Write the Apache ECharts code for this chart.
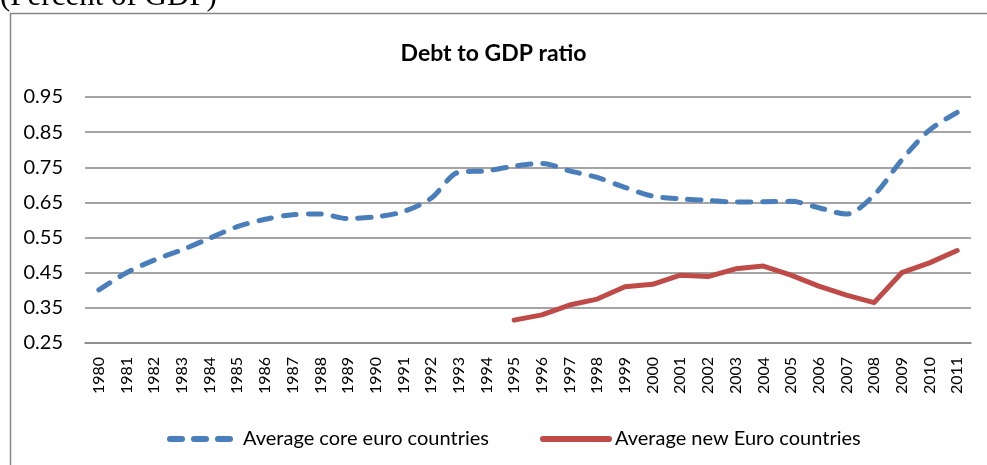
<!DOCTYPE html>
<html>
<head>
<meta charset="utf-8">
<script src="https://cdn.jsdelivr.net/npm/echarts@6/dist/echarts.min.js"></script>
<style>
html,body{margin:0;padding:0;background:#fff;}
#chart{width:987px;height:465px;}
</style>
</head>
<body>
<div id="chart"></div>
<script>
const years = ['1980','1981','1982','1983','1984','1985','1986','1987','1988','1989','1990','1991','1992','1993','1994','1995','1996','1997','1998','1999','2000','2001','2002','2003','2004','2005','2006','2007','2008','2009','2010','2011'];
const coreEuro = [0.401,0.450,0.486,0.515,0.548,0.581,0.602,0.615,0.617,0.604,0.609,0.624,0.662,0.736,0.740,0.753,0.761,0.740,0.721,0.693,0.668,0.660,0.656,0.651,0.652,0.653,0.635,0.617,0.671,0.771,0.856,0.906];
const newEuro = [null,null,null,null,null,null,null,null,null,null,null,null,null,null,null,0.315,0.330,0.358,0.375,0.410,0.417,0.443,0.439,0.461,0.469,0.443,0.412,0.386,0.365,0.450,0.478,0.513];
const seriesNames = ['Average core euro countries','Average new Euro countries'];
const chartTitle = 'Debt to GDP ratio';
const unitNote = '(Percent of GDP)';

const BLUE = '#4a7ebb', RED = '#be4b48';
const dashIcon = 'path://M3,0 L15,0 A3,3 0 0 1 15,6 L3,6 A3,3 0 0 1 3,0 Z M27,0 L39,0 A3,3 0 0 1 39,6 L27,6 A3,3 0 0 1 27,0 Z M51,0 L63,0 A3,3 0 0 1 63,6 L51,6 A3,3 0 0 1 51,0 Z';
const pillIcon = 'path://M3,0 L69,0 A3,3 0 0 1 69,6 L3,6 A3,3 0 0 1 3,0 Z';

const chart = echarts.init(document.getElementById('chart'));
const FONT = 'Lato';
chart.setOption({
  animation: false,
  backgroundColor: '#fff',
  graphic: [
    {type:'rect', shape:{x:10.5,y:13.5,width:1000,height:500}, style:{fill:'none',stroke:'#868686',lineWidth:1.5}, silent:true},
    {type:'text', left:0, top:-19, style:{text:unitNote, font:'31px "Liberation Serif"', fill:'#000'}}
  ],
  title: {
    text: chartTitle, left: 'center', top: 37,
    textStyle: {fontFamily: FONT, fontWeight: 'bold', fontSize: 23, color: '#000'}
  },
  legend: [
    {
      left: 162, top: 424, itemWidth: 66, itemHeight: 6, itemGap: 10,
      textStyle: {fontFamily: FONT, fontSize: 20, color: '#000', padding: [0,0,0,5]},
      data: [{name: seriesNames[0], icon: dashIcon, itemStyle: {color: BLUE}}]
    },
    {
      left: 535, top: 424, itemWidth: 72, itemHeight: 6, itemGap: 10,
      textStyle: {fontFamily: FONT, fontSize: 20, color: '#000', padding: [0,0,0,-2]},
      data: [{name: seriesNames[1], icon: pillIcon, itemStyle: {color: RED}}]
    }
  ],
  grid: {left: 85, right: 16, top: 97, bottom: 122},
  xAxis: {
    type: 'category', data: years, boundaryGap: true,
    axisLine: {show: true, lineStyle: {color: '#868686', width: 1.5}},
    axisTick: {show: false},
    axisLabel: {rotate: 90, interval: 0, fontFamily: FONT, fontSize: 16, color: '#000', margin: 14}
  },
  yAxis: {
    type: 'value', min: 0.25, max: 0.95, interval: 0.1,
    axisLine: {show: false}, axisTick: {show: false},
    axisLabel: {fontFamily: FONT, fontSize: 20, color: '#000', margin: 22, formatter: v => v.toFixed(2)},
    splitLine: {lineStyle: {color: '#868686', width: 1.5}}
  },
  series: [
    {
      name: seriesNames[0], type: 'line', data: coreEuro, smooth: 0.3,
      showSymbol: false, symbol: 'none',
      itemStyle: {color: BLUE},
      lineStyle: {color: BLUE, width: 5, type: [13, 12], cap: 'round'}
    },
    {
      name: seriesNames[1], type: 'line', data: newEuro, smooth: false,
      showSymbol: false, symbol: 'none',
      itemStyle: {color: RED},
      lineStyle: {color: RED, width: 5, cap: 'round', join: 'round'}
    }
  ]
});
</script>
</body>
</html>
